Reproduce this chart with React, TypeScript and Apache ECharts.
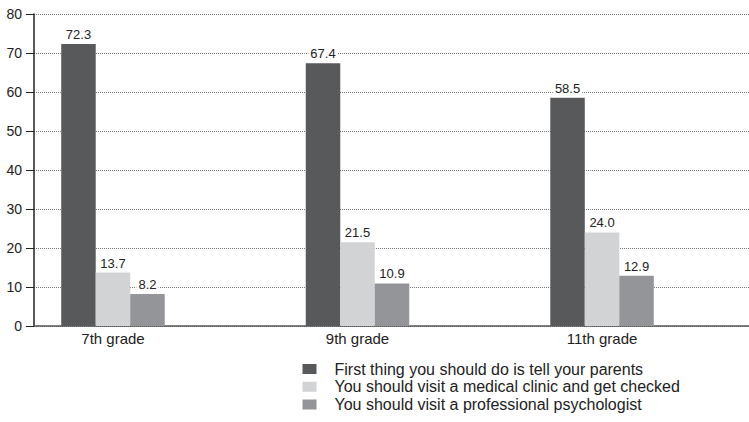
import React, { useEffect, useRef } from "react";
import * as echarts from "echarts";

const grades = ["7th grade", "9th grade", "11th grade"];
const seriesNames = [
  "First thing you should do is tell your parents",
  "You should visit a medical clinic and get checked",
  "You should visit a professional psychologist",
];
const tellParents = [72.3, 67.4, 58.5];
const medicalClinic = [13.7, 21.5, 24.0];
const psychologist = [8.2, 10.9, 12.9];
const yTicks = { min: 0, max: 80, interval: 10 };

const colors = ["#58595b", "#d1d3d4", "#939598"];
const FONT = "'Liberation Sans', Arial, Helvetica, sans-serif";

export default function App() {
  const ref = useRef<HTMLDivElement>(null);
  useEffect(() => {
    if (!ref.current) return;
    const chart = echarts.init(ref.current, null, { renderer: "svg" });
    const allSeries = [tellParents, medicalClinic, psychologist];
    const iconPath = "path://M0,0H14V10H0Z M26.9,9.9H27V10H26.9Z";
    chart.setOption({
      animation: false,
      backgroundColor: "#ffffff",
      textStyle: { fontFamily: FONT },
      grid: { left: 34, top: 14, width: 715, height: 312, containLabel: false },
      legend: {
        orient: "vertical",
        left: 302.5,
        top: 361,
        height: 61,
        itemWidth: 27,
        itemHeight: 10,
        itemGap: 1.8,
        padding: 0,
        icon: iconPath,
        data: seriesNames,
        textStyle: { fontSize: 16, lineHeight: 16, color: "#222", fontFamily: FONT },
        selectedMode: false,
      },
      xAxis: {
        type: "value",
        min: -0.323,
        max: 2.601,
        axisLine: { show: true, onZero: false, lineStyle: { color: "#555", width: 1.5 } },
        axisTick: { show: false },
        splitLine: { show: false },
        axisLabel: {
          customValues: [0, 1, 2],
          formatter: (v: number) => grades[Math.round(v)] ?? "",
          fontSize: 15,
          color: "#222",
          margin: 5,
          fontFamily: FONT,
        },
      },
      yAxis: {
        type: "value",
        min: yTicks.min,
        max: yTicks.max,
        interval: yTicks.interval,
        axisLine: { show: true, onZero: false, lineStyle: { color: "#222", width: 1.5 } },
        axisTick: { show: true, length: 8, lineStyle: { color: "#222", width: 1 } },
        axisLabel: { fontSize: 14, color: "#222", margin: 12, fontFamily: FONT },
        splitLine: { show: true, lineStyle: { type: "dotted", color: "#777", width: 1 } },
      },
      series: allSeries.map((vals, si) => ({
        name: seriesNames[si],
        type: "bar",
        barWidth: 34.5,
        barGap: "0%",
        itemStyle: { color: colors[si] },
        data: vals.map((v, i) => [i, v]),
        label: {
          show: true,
          position: "top",
          distance: 3,
          fontSize: 13,
          color: "#222",
          fontFamily: FONT,
          backgroundColor: "#ffffff",
          padding: [1, 2, 0, 2],
          formatter: (p: any) => Number(p.value[1]).toFixed(1),
        },
      })),
    });
    return () => chart.dispose();
  }, []);
  return (
    <div
      ref={ref}
      style={{ position: "fixed", left: 0, top: 0, width: 749, height: 422 }}
    />
  );
}
